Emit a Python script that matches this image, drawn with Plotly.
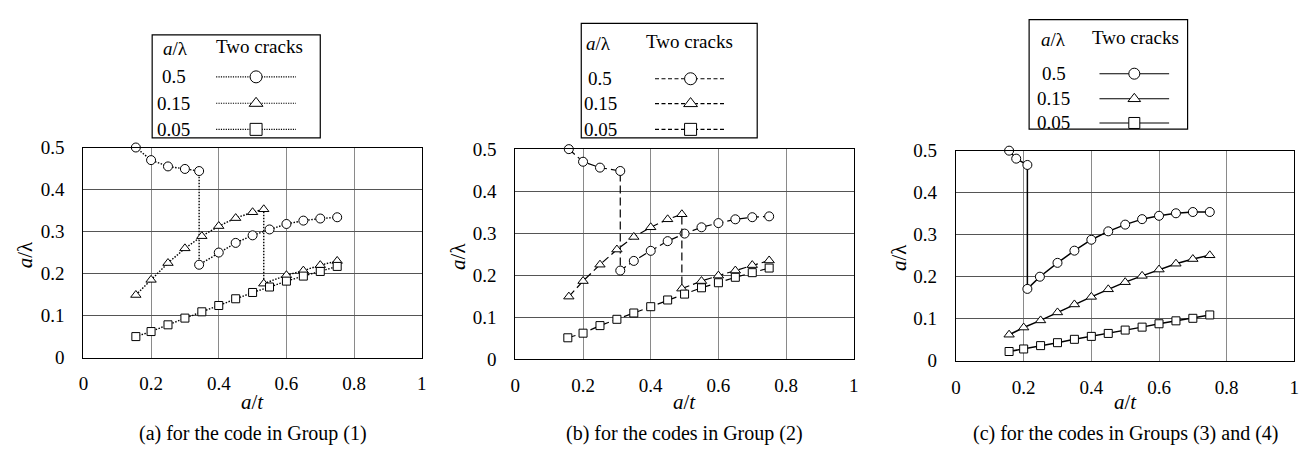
import plotly.graph_objects as go

# ---------------- data ----------------
x_ticks = [0, 0.2, 0.4, 0.6, 0.8, 1]
x_tick_labels = ["0", "0.2", "0.4", "0.6", "0.8", "1"]
y_ticks = [0, 0.1, 0.2, 0.3, 0.4, 0.5]
y_tick_labels = ["0", "0.1", "0.2", "0.3", "0.4", "0.5"]

legend_labels = ["0.5", "0.15", "0.05"]
captions = ["(a) for the code in Group (1)",
            "(b) for the codes in Group (2)",
            "(c) for the codes in Groups (3) and (4)"]

# Group (1)
a_circle_x = [0.155, 0.2, 0.25, 0.3, 0.342, 0.342, 0.4, 0.45, 0.5, 0.55, 0.6, 0.65, 0.7, 0.75]
a_circle_y = [0.5, 0.47, 0.455, 0.449, 0.444, 0.221, 0.25, 0.273, 0.291, 0.305, 0.318, 0.326, 0.331, 0.334]
a_tri_x = [0.155, 0.2, 0.25, 0.3, 0.35, 0.4, 0.45, 0.5, 0.533, 0.533, 0.6, 0.65, 0.7, 0.75]
a_tri_y = [0.149, 0.185, 0.225, 0.26, 0.289, 0.313, 0.332, 0.346, 0.353, 0.176, 0.196, 0.207, 0.22, 0.23]
a_sq_x = [0.155, 0.2, 0.25, 0.3, 0.35, 0.4, 0.45, 0.5, 0.55, 0.6, 0.65, 0.7, 0.75]
a_sq_y = [0.05, 0.062, 0.078, 0.094, 0.109, 0.124, 0.14, 0.155, 0.168, 0.182, 0.194, 0.205, 0.217]

# Group (2)
b_circle_x = [0.158, 0.2, 0.25, 0.31, 0.31, 0.35, 0.4, 0.45, 0.5, 0.55, 0.6, 0.65, 0.7, 0.75]
b_circle_y = [0.5, 0.47, 0.456, 0.448, 0.211, 0.234, 0.258, 0.281, 0.299, 0.314, 0.324, 0.333, 0.338, 0.34]
b_tri_x = [0.158, 0.2, 0.25, 0.3, 0.35, 0.4, 0.45, 0.492, 0.492, 0.55, 0.6, 0.65, 0.7, 0.75]
b_tri_y = [0.149, 0.186, 0.225, 0.261, 0.291, 0.314, 0.333, 0.345, 0.168, 0.186, 0.199, 0.211, 0.224, 0.235]
b_sq_x = [0.155, 0.2, 0.25, 0.3, 0.35, 0.4, 0.45, 0.5, 0.55, 0.6, 0.65, 0.7, 0.75]
b_sq_y = [0.051, 0.062, 0.08, 0.095, 0.11, 0.125, 0.141, 0.155, 0.17, 0.182, 0.195, 0.206, 0.217]

# Groups (3) and (4)
c_circle_x = [0.157, 0.178, 0.211, 0.211, 0.248, 0.3, 0.35, 0.4, 0.45, 0.5, 0.55, 0.6, 0.65, 0.7, 0.75]
c_circle_y = [0.5, 0.481, 0.466, 0.171, 0.2, 0.233, 0.262, 0.288, 0.308, 0.324, 0.337, 0.345, 0.351, 0.354, 0.354]
c_tri_x = [0.157, 0.2, 0.25, 0.3, 0.35, 0.4, 0.45, 0.5, 0.55, 0.6, 0.65, 0.7, 0.75]
c_tri_y = [0.062, 0.079, 0.096, 0.115, 0.134, 0.152, 0.17, 0.187, 0.202, 0.217, 0.231, 0.242, 0.251]
c_sq_x = [0.157, 0.2, 0.25, 0.3, 0.35, 0.4, 0.45, 0.5, 0.55, 0.6, 0.65, 0.7, 0.75]
c_sq_y = [0.022, 0.028, 0.036, 0.043, 0.051, 0.058, 0.065, 0.073, 0.08, 0.088, 0.095, 0.101, 0.109]

# ---------------- layout helpers ----------------
W, H = 1309, 466
FONT = "Liberation Serif, Times New Roman, serif"


def X(px):
    return px / W


def Y(py):
    return 1 - py / H


panels = [
    dict(series=[(a_circle_x, a_circle_y), (a_tri_x, a_tri_y), (a_sq_x, a_sq_y)],
         box=(79, 420, 144, 364), dash="1.5px,1.5px", lw=1.4, legend_dash="1.2px,1.2px",
         leg_box=(148.3, 317.7, 26, 134), leg_line=(212.7, 293.3),
         leg_head_y=40, leg_rows=[70, 97.7, 125], leg_label_x=170, leg_head_x=(171.7, 256.7),
         leg_msize=12),
    dict(series=[(b_circle_x, b_circle_y), (b_tri_x, b_tri_y), (b_sq_x, b_sq_y)],
         box=(514.3, 855.3, 145.7, 365.7), dash="8px,4px", lw=1.2, legend_dash="4px,2.5px",
         leg_box=(580.7, 758, 14, 134), leg_line=(655, 726.7),
         leg_head_y=35, leg_rows=[72, 98, 125], leg_label_x=600, leg_head_x=(598.3, 690),
         leg_msize=12),
    dict(series=[(c_circle_x, c_circle_y), (c_tri_x, c_tri_y), (c_sq_x, c_sq_y)],
         box=(958.3, 1299.3, 147.3, 367.3), dash="solid", lw=1.5, legend_dash="solid",
         leg_box=(1032, 1191.7, 10, 124.7), leg_line=(1102.7, 1173.3),
         leg_head_y=31, leg_rows=[66.7, 93, 118.3], leg_label_x=1056.7, leg_head_x=(1056.7, 1139.3),
         leg_msize=11),
]
symbols = ["circle", "triangle-up", "square"]
msizes = [9, 9, 8]

fig = go.Figure()
layout = dict(width=W, height=H, margin=dict(l=0, r=0, t=0, b=0),
              paper_bgcolor="white", plot_bgcolor="white", showlegend=False,
              font=dict(family=FONT, color="black", size=19))
annotations = []
shapes = []

for i, p in enumerate(panels):
    n = i + 1
    xa = "x" if n == 1 else f"x{n}"
    ya = "y" if n == 1 else f"y{n}"
    x0, x1, top, bottom = p["box"]

    for (sx, sy), sym, ms in zip(p["series"], symbols, msizes):
        fig.add_trace(go.Scatter(
            x=sx, y=sy, mode="lines+markers", xaxis=xa, yaxis=ya, cliponaxis=False,
            line=dict(color="black", width=p["lw"], dash=p["dash"]),
            marker=dict(symbol=sym, size=ms, color="white", line=dict(color="black", width=1)),
            hoverinfo="skip"))

    layout["xaxis" if n == 1 else f"xaxis{n}"] = dict(
        domain=[X(x0), X(x1)], range=[0, 1], anchor=ya,
        tickvals=x_ticks, ticktext=x_tick_labels, ticks="", ticklabelstandoff=9,
        showgrid=True, gridcolor="#8a8a8a", gridwidth=1, zeroline=False,
        showline=True, mirror=True, linecolor="black", linewidth=1.2,
        tickfont=dict(family=FONT, size=19, color="black"), fixedrange=True)
    layout["yaxis" if n == 1 else f"yaxis{n}"] = dict(
        domain=[Y(bottom), Y(top)], range=[0, 0.5], anchor=xa,
        tickvals=y_ticks, ticktext=y_tick_labels, ticks="", ticklabelstandoff=14,
        showgrid=True, gridcolor="#555555", gridwidth=1, zeroline=False,
        showline=True, mirror=True, linecolor="black", linewidth=1.2,
        tickfont=dict(family=FONT, size=19, color="black"), fixedrange=True)

    cx = (x0 + x1) / 2
    # axis titles
    annotations.append(dict(text="<i>a</i>/<i>t</i>", x=X(cx), y=Y(411), xref="paper", yref="paper",
                            showarrow=False, font=dict(size=21), xanchor="center", yanchor="middle"))
    annotations.append(dict(text="<i>a</i>/λ", x=X(x0 - 58), y=Y((top + bottom) / 2 + 2),
                            xref="paper", yref="paper", textangle=-90,
                            showarrow=False, font=dict(size=21), xanchor="center", yanchor="middle"))
    # caption
    annotations.append(dict(text=captions[i], x=X(cx), y=Y(443), xref="paper", yref="paper",
                            showarrow=False, font=dict(size=20), xanchor="center", yanchor="middle"))

    # legend box
    bx0, bx1, btop, bbot = p["leg_box"]
    shapes.append(dict(type="rect", xref="paper", yref="paper", x0=X(bx0), x1=X(bx1),
                       y0=Y(bbot), y1=Y(btop), line=dict(color="black", width=1.2),
                       fillcolor="white", layer="below"))
    hx_a, hx_t = p["leg_head_x"]
    annotations.append(dict(text="<i>a</i>/λ", x=X(hx_a), y=Y(p["leg_head_y"]), xref="paper", yref="paper",
                            showarrow=False, font=dict(size=19), xanchor="center", yanchor="middle"))
    annotations.append(dict(text="Two cracks", x=X(hx_t), y=Y(p["leg_head_y"] - 2), xref="paper", yref="paper",
                            showarrow=False, font=dict(size=19), xanchor="center", yanchor="middle"))
    for lab, ry in zip(legend_labels, p["leg_rows"]):
        annotations.append(dict(text=lab, x=X(p["leg_label_x"]), y=Y(ry), xref="paper", yref="paper",
                                showarrow=False, font=dict(size=19), xanchor="center", yanchor="middle"))

    # legend samples on their own hidden axes (pixel units inside the legend box)
    m = n + 3
    lxa, lya = f"x{m}", f"y{m}"
    lx0, lx1 = p["leg_line"]
    layout[f"xaxis{m}"] = dict(domain=[X(lx0), X(lx1)], range=[0, 1], visible=False,
                               anchor=lya, fixedrange=True)
    layout[f"yaxis{m}"] = dict(domain=[Y(bbot), Y(btop)], range=[bbot, btop], visible=False,
                               anchor=lxa, fixedrange=True)
    for ry, sym in zip(p["leg_rows"], symbols):
        fig.add_trace(go.Scatter(
            x=[0, 1], y=[ry, ry], mode="lines", xaxis=lxa, yaxis=lya, cliponaxis=False,
            line=dict(color="black", width=1.1, dash=p["legend_dash"]), hoverinfo="skip"))
        fig.add_trace(go.Scatter(
            x=[0.5], y=[ry], mode="markers", xaxis=lxa, yaxis=lya, cliponaxis=False,
            marker=dict(symbol=sym, size=p["leg_msize"], color="white",
                        line=dict(color="black", width=1)), hoverinfo="skip"))

layout["annotations"] = annotations
layout["shapes"] = shapes
fig.update_layout(**layout)
fig.write_html("out.html")
